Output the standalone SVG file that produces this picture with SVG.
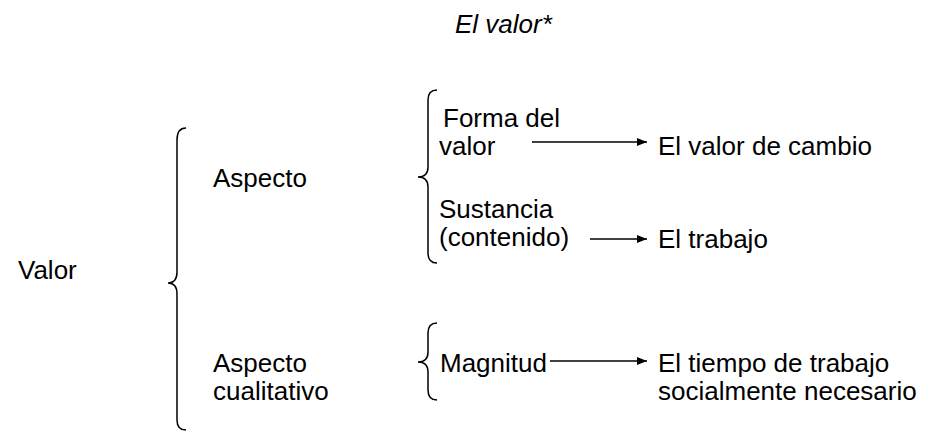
<svg xmlns="http://www.w3.org/2000/svg" width="930" height="431" viewBox="0 0 930 431">
<defs>
<style>
text{font-family:"Liberation Sans",Arial,sans-serif;font-size:26px;fill:#000}
.it{font-style:italic}
.br{fill:none;stroke:#000;stroke-width:1.5}
.ar{stroke:#000;stroke-width:1.5;fill:none}
</style>
<marker id="ah" markerWidth="10" markerHeight="8" refX="10" refY="4" orient="auto" markerUnits="userSpaceOnUse">
<path d="M0,0 L10,4 L0,8 Z" fill="#000"/>
</marker>
</defs>
<rect width="930" height="431" fill="#fff"/>
<text class="it" x="455" y="33">El valor*</text>
<g id="valor"><text x="18" y="279">Valor</text></g>
<g id="brace-main"><path class="br" d="M186,128 Q177,128 177,140 L177,272 Q177,283 168,283 Q177,283 177,294 L177,420 Q177,430 186,430"/></g>
<g id="aspecto1"><text x="213" y="187">Aspecto</text></g>
<g id="aspecto2"><text x="213" y="372">Aspecto</text><text x="213" y="400">cualitativo</text></g>
<g id="brace-upper"><path class="br" d="M437,90 Q428,90 428,100 L428,167 Q428,177 418,177 Q428,177 428,187 L428,253 Q428,263 437,263"/></g>
<g id="brace-lower"><path class="br" d="M437,323 Q428,323 428,333 L428,352 Q428,362 418,362 Q428,362 428,372 L428,390 Q428,400 437,400"/></g>
<g id="forma"><text x="443" y="127">Forma del</text><text x="439" y="155">valor</text></g>
<g id="sustancia"><text x="439" y="218">Sustancia</text><text x="439" y="246">(contenido)</text></g>
<g id="magnitud"><text x="440" y="372">Magnitud</text></g>
<g id="cambio"><text x="658" y="155">El valor de cambio</text></g>
<g id="trabajo"><text x="658" y="248">El trabajo</text></g>
<g id="tiempo"><text x="658" y="372">El tiempo de trabajo</text><text x="658" y="400">socialmente necesario</text></g>
<g id="connectors">
<line class="ar" x1="532" y1="142" x2="647" y2="142" marker-end="url(#ah)"/>
<line class="ar" x1="590" y1="239" x2="647" y2="239" marker-end="url(#ah)"/>
<line class="ar" x1="550" y1="361" x2="647" y2="361" marker-end="url(#ah)"/>
</g>
</svg>
